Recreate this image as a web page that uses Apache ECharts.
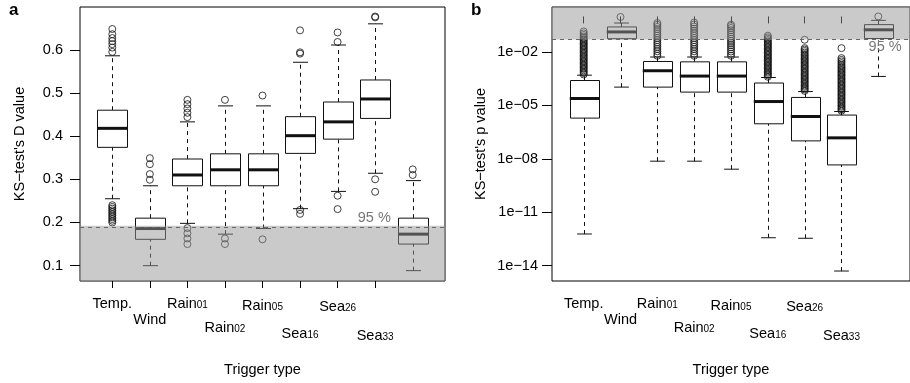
<!DOCTYPE html>
<html>
<head>
<meta charset="utf-8">
<script src="https://cdn.jsdelivr.net/npm/echarts@6/dist/echarts.min.js"></script>
<style>
html, body { margin: 0; padding: 0; background: #fff; }
#main { width: 910px; height: 383px; }
</style>
</head>
<body>
<div id="main"></div>
<script>
// trigger types (label text + subscript)
const catMain = ['Temp.', 'Wind', 'Rain', 'Rain', 'Rain', 'Sea', 'Sea', 'Sea', 'Diurnal'];
const catSub = ['', '', '01', '02', '05', '16', '26', '33', ''];

// panel a: KS-test D value, box stats per trigger type
const dLow  = [0.255, 0.100, 0.198, 0.173, 0.186, 0.232, 0.272, 0.314, 0.0885];
const dQ1   = [0.374, 0.161, 0.285, 0.285, 0.285, 0.360, 0.393, 0.441, 0.150];
const dMed  = [0.418, 0.186, 0.310, 0.322, 0.322, 0.401, 0.433, 0.486, 0.173];
const dQ3   = [0.460, 0.210, 0.347, 0.359, 0.359, 0.445, 0.479, 0.530, 0.210];
const dHigh = [0.586, 0.285, 0.433, 0.470, 0.470, 0.571, 0.611, 0.660, 0.297];
const dOut = [
  [0.648, 0.636, 0.627, 0.620, 0.613, 0.605, 0.595, 0.240, 0.236, 0.232, 0.228, 0.224, 0.220, 0.216, 0.212, 0.208, 0.204, 0.200],
  [0.349, 0.335, 0.312, 0.299],
  [0.484, 0.474, 0.464, 0.454, 0.444, 0.187, 0.175, 0.163, 0.150],
  [0.484, 0.163, 0.150],
  [0.494, 0.161],
  [0.645, 0.594, 0.591, 0.229, 0.220],
  [0.640, 0.618, 0.262, 0.231],
  [0.677, 0.675, 0.300, 0.271],
  [0.323, 0.310]
];

// panel b: KS-test p value, stored as log10(p)
const pLow  = [-12.22, -3.97, -8.13, -8.13, -8.58, -12.43, -12.46, -14.30, -3.37];
const pQ1   = [-5.71, -1.25, -3.97, -4.25, -4.25, -6.03, -6.99, -8.34, -1.24];
const pMed  = [-4.61, -0.87, -3.05, -3.35, -3.35, -4.78, -5.62, -6.82, -0.75];
const pQ3   = [-3.60, -0.59, -2.53, -2.55, -2.55, -3.74, -4.55, -5.54, -0.46];
const pHigh = [-3.30, -0.37, -2.28, -2.28, -2.28, -3.43, -4.22, -5.34, -0.22];
const pOut = [
  [-3.26, -3.18, -3.11, -3.03, -2.95, -2.88, -2.80, -2.73, -2.65, -2.57, -2.50, -2.42, -2.35, -2.27, -2.20, -2.12, -2.04, -1.97, -1.89, -1.82, -1.74, -1.66, -1.59, -1.51, -1.44, -1.36, -1.29, -1.21, -1.13, -1.04, -0.95, -0.84],
  [-0.03],
  [-2.21, -2.09, -1.96, -1.83, -1.71, -1.58, -1.46, -1.33, -1.21, -1.08, -0.96, -0.83, -0.71, -0.59, -0.47, -0.37],
  [-2.21, -2.09, -1.96, -1.83, -1.71, -1.58, -1.46, -1.33, -1.21, -1.08, -0.95, -0.82, -0.69, -0.57, -0.45, -0.34],
  [-2.21, -2.09, -1.97, -1.85, -1.73, -1.61, -1.49, -1.37, -1.25, -1.13, -1.01, -0.89, -0.77, -0.65, -0.54, -0.46],
  [-3.39, -3.31, -3.24, -3.16, -3.09, -3.01, -2.93, -2.86, -2.78, -2.71, -2.63, -2.55, -2.48, -2.40, -2.33, -2.25, -2.17, -2.10, -2.02, -1.95, -1.87, -1.79, -1.72, -1.64, -1.57, -1.49, -1.41, -1.33, -1.25, -1.17, -1.08],
  [-4.18, -4.10, -4.03, -3.95, -3.88, -3.80, -3.72, -3.65, -3.57, -3.50, -3.42, -3.34, -3.27, -3.19, -3.12, -3.04, -2.96, -2.89, -2.81, -2.74, -2.66, -2.58, -2.51, -2.43, -2.36, -2.28, -2.20, -2.12, -2.03, -1.94, -1.86, -1.78, -1.31],
  [-5.30, -5.22, -5.15, -5.07, -5.00, -4.92, -4.84, -4.77, -4.69, -4.62, -4.54, -4.46, -4.39, -4.31, -4.24, -4.16, -4.08, -4.01, -3.93, -3.86, -3.78, -3.70, -3.63, -3.55, -3.48, -3.40, -3.32, -3.25, -3.17, -3.10, -3.02, -2.94, -2.87, -2.79, -2.71, -2.62, -2.53, -2.44, -2.34, -1.78],
  [0.0]
];

// 95 % thresholds
const dThreshold = 0.1927;
const pThreshold = Math.log10(0.05);

// tick values
const xTicks = [1, 2, 3, 4, 5, 6, 7, 8, 9];
const dTicks = [0.1, 0.2, 0.3, 0.4, 0.5, 0.6];
const pTicks = [-2, -5, -8, -11, -14];

// vertical drop of each x label (staggered like the original)
const labelDrop = [0, 16, 0, 24, 2, 30, 3, 32, 0];

const FONT = 'Liberation Sans, Arial, Helvetica, sans-serif';
const FS = 14.5;
const chart = echarts.init(document.getElementById('main'));

function boxData(lo, q1, md, q3, hi) {
  return catMain.map((c, i) => [i + 1, lo[i], q1[i], md[i], q3[i], hi[i]]);
}
function outData(out) {
  const res = [];
  out.forEach((vals, i) => vals.forEach(v => res.push([i + 1, v])));
  return res;
}

// R style box: dashed whiskers, half-width staples, thick median
function renderBox(params, api) {
  const x = api.value(0);
  const lo = api.coord([x, api.value(1)]);
  const q1 = api.coord([x, api.value(2)]);
  const md = api.coord([x, api.value(3)]);
  const q3 = api.coord([x, api.value(4)]);
  const hi = api.coord([x, api.value(5)]);
  const unit = api.size([1, 0])[0];
  const half = unit * 0.4;
  const cap = unit * 0.2;
  const cx = Math.round(lo[0]) + 0.5;
  const line = (x1, y1, x2, y2, w, dash) => ({
    type: 'line',
    shape: { x1: x1, y1: y1, x2: x2, y2: y2 },
    style: { stroke: '#111', lineWidth: w, lineDash: dash || null }
  });
  return {
    type: 'group',
    children: [
      line(cx, lo[1], cx, q1[1], 1, [4, 4]),
      line(cx, q3[1], cx, hi[1], 1, [4, 4]),
      line(cx - cap, lo[1], cx + cap, lo[1], 1),
      line(cx - cap, hi[1], cx + cap, hi[1], 1),
      {
        type: 'rect',
        shape: { x: Math.round(cx - half) + 0.5, y: q3[1], width: Math.round(2 * half), height: q1[1] - q3[1] },
        style: { fill: '#fff', stroke: '#111', lineWidth: 1 }
      },
      line(cx - half, md[1], cx + half, md[1], 3)
    ]
  };
}

const rich = {};
catMain.forEach((c, i) => {
  rich['m' + i] = { fontSize: FS, lineHeight: 16, verticalAlign: 'top', color: '#000', padding: [labelDrop[i], 0, 0, 0] };
  rich['s' + i] = { fontSize: 10, lineHeight: 16, verticalAlign: 'top', color: '#000', padding: [labelDrop[i] + 4, 0, 0, 0] };
});

function xAxisFor(gridIndex) {
  return {
    type: 'value',
    gridIndex: gridIndex,
    min: 0.14,
    max: 9.86,
    axisLine: { show: false },
    splitLine: { show: false },
    axisTick: { show: true, length: 7, customValues: xTicks, lineStyle: { color: '#000' } },
    axisLabel: {
      customValues: xTicks,
      margin: 15,
      formatter: function (v) {
        const i = Math.round(v) - 1;
        let s = '{m' + i + '|' + catMain[i] + '}';
        if (catSub[i]) s += '{s' + i + '|' + catSub[i] + '}';
        return s;
      },
      rich: rich
    },
    name: 'Trigger type',
    nameLocation: 'middle',
    nameGap: 81,
    nameTextStyle: { fontSize: FS, color: '#000', fontFamily: FONT }
  };
}

function yAxisFor(gridIndex, min, max, ticks, fmt, margin, name, gap) {
  return {
    type: 'value',
    gridIndex: gridIndex,
    min: min,
    max: max,
    axisLine: { show: false },
    splitLine: { show: false },
    axisTick: { show: true, length: 10, customValues: ticks, lineStyle: { color: '#000' } },
    axisLabel: { customValues: ticks, formatter: fmt, margin: margin, fontSize: FS, color: '#000', fontFamily: FONT },
    name: name,
    nameLocation: 'middle',
    nameGap: gap,
    nameTextStyle: { fontSize: FS, color: '#000', fontFamily: FONT }
  };
}

const band = 'rgba(150,150,150,0.5)';

function thresholdMarks(bandFrom, bandTo, threshold, textCoord, textAlign, textVAlign) {
  return {
    markArea: {
      silent: true,
      z: 10,
      itemStyle: { color: band },
      data: [[{ yAxis: bandFrom }, { yAxis: bandTo }]]
    },
    markLine: {
      silent: true,
      z: 11,
      symbol: 'none',
      label: { show: false },
      lineStyle: { color: '#666', type: [4, 4], width: 1 },
      data: [{ yAxis: threshold }]
    },
    markPoint: {
      silent: true,
      z: 12,
      symbol: 'circle',
      symbolSize: 1,
      itemStyle: { color: 'rgba(0,0,0,0)' },
      label: {
        show: true,
        position: [0, 0],
        align: textAlign,
        verticalAlign: textVAlign,
        formatter: '95 %',
        fontSize: FS,
        color: '#777',
        fontFamily: FONT
      },
      data: [{ coord: textCoord }]
    }
  };
}

const yMinA = 0.0645, yMaxA = 0.699;
const yMinB = -14.86, yMaxB = 0.53;

const outStyle = { color: 'rgba(0,0,0,0)', borderColor: '#111', borderWidth: 1 };

chart.setOption({
  animation: false,
  textStyle: { fontFamily: FONT },
  grid: [
    { left: 80, top: 7, width: 365, height: 274, show: true, borderColor: '#000', borderWidth: 1, backgroundColor: 'transparent' },
    { left: 552, top: 7, width: 365, height: 274, show: true, borderColor: '#000', borderWidth: 1, backgroundColor: 'transparent' }
  ],
  xAxis: [xAxisFor(0), xAxisFor(1)],
  yAxis: [
    yAxisFor(0, yMinA, yMaxA, dTicks, v => v.toFixed(1), 17, 'KS\u2212test\'s D value', 53),
    yAxisFor(1, yMinB, yMaxB, pTicks, v => '1e\u2212' + String(Math.round(-v)).padStart(2, '0'), 14, 'KS\u2212test\'s p value', 64)
  ],
  graphic: [
    { type: 'text', left: 9, top: 2, style: { text: 'a', font: 'bold 17px ' + FONT, fill: '#000' } },
    { type: 'text', left: 471, top: 2, style: { text: 'b', font: 'bold 17px ' + FONT, fill: '#000' } }
  ],
  series: [
    {
      type: 'custom', xAxisIndex: 0, yAxisIndex: 0,
      renderItem: renderBox,
      encode: { x: 0, y: [1, 2, 3, 4, 5] },
      data: boxData(dLow, dQ1, dMed, dQ3, dHigh)
    },
    Object.assign({
      type: 'scatter', xAxisIndex: 0, yAxisIndex: 0,
      symbol: 'circle', symbolSize: 7,
      itemStyle: outStyle,
      data: outData(dOut)
    }, thresholdMarks(yMinA, dThreshold, dThreshold, [8.43, dThreshold], 'right', 'bottom')),
    {
      type: 'custom', xAxisIndex: 1, yAxisIndex: 1,
      renderItem: renderBox,
      encode: { x: 0, y: [1, 2, 3, 4, 5] },
      data: boxData(pLow, pQ1, pMed, pQ3, pHigh)
    },
    Object.assign({
      type: 'scatter', xAxisIndex: 1, yAxisIndex: 1,
      symbol: 'circle', symbolSize: 7,
      itemStyle: outStyle,
      data: outData(pOut)
    }, thresholdMarks(pThreshold, yMaxB, pThreshold, [8.75, pThreshold], 'left', 'top'))
  ]
});
</script>
</body>
</html>
